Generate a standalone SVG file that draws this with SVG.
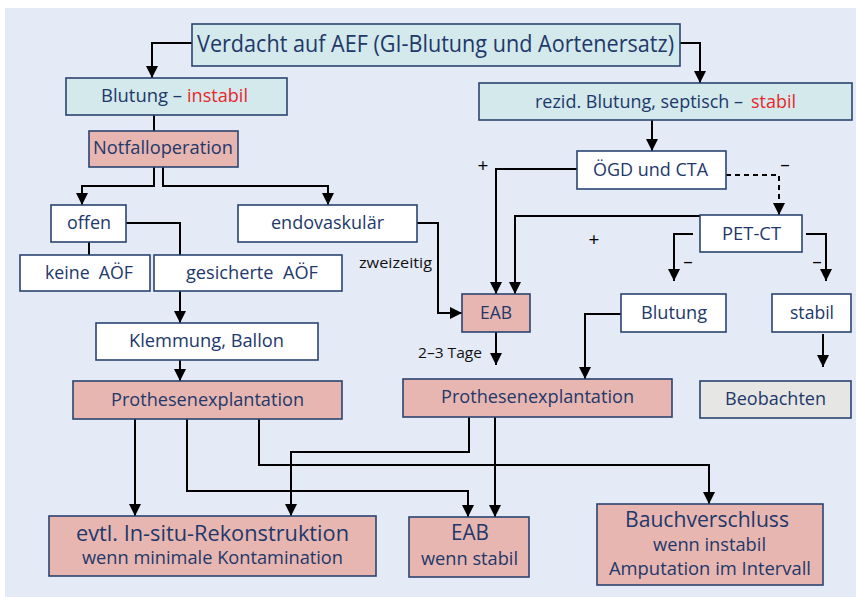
<svg xmlns="http://www.w3.org/2000/svg" width="856" height="597" viewBox="0 0 856 597">
<defs>
<marker id="ah" viewBox="0 0 10 10" refX="10" refY="5" markerWidth="12" markerHeight="12" markerUnits="userSpaceOnUse" orient="auto">
<path d="M0,0 L10,5 L0,10 z" fill="#000"/>
</marker>
<style>
.box{stroke:#2b4470;stroke-width:1.6}
.cy{fill:#d3e9ec}.pk{fill:#e8b6b0}.wh{fill:#ffffff}.gy{fill:#e6e6e4}
.t{font-family:"Open Sans","Noto Sans",sans-serif;fill:#22386a;font-size:19px}
.big{font-size:22px}.sm{font-size:18px}
.red{fill:#e8262b}
.lbl{font-family:"Open Sans","Noto Sans",sans-serif;fill:#111;font-size:15px}
.pm{font-family:"Open Sans","Noto Sans",sans-serif;fill:#000;font-size:19px}
.c{fill:none;stroke:#000;stroke-width:2}
.ar{marker-end:url(#ah)}
.d{stroke-dasharray:5 4}
</style>
</defs>
<rect x="5" y="8" width="851" height="589" fill="#e4eaf6"/>

<g id="connectors">
<path class="c ar" d="M192,43 H152 V78"/>
<path class="c ar" d="M680,43 H700 V83"/>
<path class="c" d="M154,115 V131"/>
<path class="c ar" d="M154,167 V186 H82 V205"/>
<path class="c ar" d="M163,167 V186 H328 V205"/>
<path class="c ar" d="M652,120 V151"/>
<path class="c ar" d="M577,169 H496 V294"/>
<path class="c d ar" d="M726,175 H779 V215"/>
<path class="c ar" d="M700,216 H515 V294"/>
<path class="c ar" d="M693,234 H674 V281"/>
<path class="c ar" d="M806,234 H826 V281"/>
<path class="c ar" d="M417,223 H438 V313 H462"/>
<path class="c ar" d="M496,332 V365"/>
<path class="c ar" d="M621,314 H585 V379"/>
<path class="c ar" d="M823,334 V367"/>
<path class="c ar" d="M180,291 V323"/>
<path class="c" d="M126,223 H180 V255"/>
<path class="c" d="M89,242 V255"/>
<path class="c ar" d="M180,360 V381"/>
<path class="c ar" d="M135,419 V516"/>
<path class="c ar" d="M187,419 V491 H468 V517"/>
<path class="c ar" d="M259,419 V465 H709 V504"/>
<path class="c ar" d="M469,417 V452 H291 V516"/>
<path class="c ar" d="M495,417 V517"/>
<text class="pm" x="483" y="172" text-anchor="middle">+</text>
<text class="pm" x="785" y="171" text-anchor="middle">–</text>
<text class="pm" x="594" y="246" text-anchor="middle">+</text>
<text class="pm" x="688" y="268" text-anchor="middle">–</text>
<text class="pm" x="817" y="268" text-anchor="middle">–</text>
<text class="lbl" x="359" y="268" textLength="73" lengthAdjust="spacingAndGlyphs">zweizeitig</text>
<text class="lbl" x="418" y="358" textLength="64" lengthAdjust="spacingAndGlyphs">2–3 Tage</text>
</g>

<g id="verdacht"><rect class="box cy" x="192" y="24" width="488" height="42"/>
<text class="t" style="font-size:24px" x="197" y="52" textLength="477" lengthAdjust="spacingAndGlyphs">Verdacht auf AEF (GI-Blutung und Aortenersatz)</text></g>

<g id="blutung-instabil"><rect class="box cy" x="66" y="78" width="221" height="37"/>
<text class="t" x="101" y="102" textLength="81" lengthAdjust="spacingAndGlyphs">Blutung –</text>
<text class="t red" x="187" y="102" textLength="61" lengthAdjust="spacingAndGlyphs">instabil</text></g>

<g id="rezid"><rect class="box cy" x="479" y="83" width="373" height="37"/>
<text class="t" x="535" y="108" textLength="208" lengthAdjust="spacingAndGlyphs">rezid. Blutung, septisch –</text>
<text class="t red" x="751" y="108" textLength="45" lengthAdjust="spacingAndGlyphs">stabil</text></g>

<g id="notfalloperation"><rect class="box pk" x="89" y="131" width="149" height="36"/>
<text class="t" x="93" y="154" textLength="140" lengthAdjust="spacingAndGlyphs">Notfalloperation</text></g>

<g id="ogd-cta"><rect class="box wh" x="577" y="151" width="149" height="38"/>
<text class="t" x="593" y="176" textLength="115" lengthAdjust="spacingAndGlyphs">ÖGD und CTA</text></g>

<g id="offen"><rect class="box wh" x="51" y="205" width="75" height="37"/>
<text class="t" x="67" y="229" textLength="44" lengthAdjust="spacingAndGlyphs">offen</text></g>

<g id="endovaskulaer"><rect class="box wh" x="238" y="205" width="179" height="37"/>
<text class="t" x="271" y="229" textLength="113" lengthAdjust="spacingAndGlyphs">endovaskulär</text></g>

<g id="keine-aoef"><rect class="box wh" x="20" y="255" width="130" height="36"/>
<text class="t" x="45" y="279" textLength="88" lengthAdjust="spacingAndGlyphs" xml:space="preserve">keine  AÖF</text></g>

<g id="gesicherte-aoef"><rect class="box wh" x="154" y="255" width="188" height="36"/>
<text class="t" x="186" y="279" textLength="132" lengthAdjust="spacingAndGlyphs" xml:space="preserve">gesicherte  AÖF</text></g>

<g id="klemmung"><rect class="box wh" x="96" y="323" width="222" height="37"/>
<text class="t" x="129" y="347" textLength="155" lengthAdjust="spacingAndGlyphs">Klemmung, Ballon</text></g>

<g id="prothesenexplantation-1"><rect class="box pk" x="73" y="381" width="269" height="38"/>
<text class="t" x="111" y="406" textLength="193" lengthAdjust="spacingAndGlyphs">Prothesenexplantation</text></g>

<g id="eab-1"><rect class="box pk" x="462" y="294" width="68" height="38"/>
<text class="t" x="480" y="319" textLength="32" lengthAdjust="spacingAndGlyphs">EAB</text></g>

<g id="pet-ct"><rect class="box wh" x="700" y="215" width="102" height="37"/>
<text class="t" x="722" y="240" textLength="59" lengthAdjust="spacingAndGlyphs">PET-CT</text></g>

<g id="blutung"><rect class="box wh" x="621" y="294" width="105" height="38"/>
<text class="t" x="641" y="319" textLength="66" lengthAdjust="spacingAndGlyphs">Blutung</text></g>

<g id="stabil"><rect class="box wh" x="772" y="294" width="79" height="38"/>
<text class="t" x="790" y="319" textLength="44" lengthAdjust="spacingAndGlyphs">stabil</text></g>

<g id="prothesenexplantation-2"><rect class="box pk" x="403" y="379" width="269" height="38"/>
<text class="t" x="441" y="403" textLength="193" lengthAdjust="spacingAndGlyphs">Prothesenexplantation</text></g>

<g id="beobachten"><rect class="box gy" x="700" y="381" width="151" height="37"/>
<text class="t" x="725" y="405" textLength="101" lengthAdjust="spacingAndGlyphs">Beobachten</text></g>

<g id="in-situ"><rect class="box pk" x="49" y="516" width="327" height="60"/>
<text class="t big" x="76" y="541" textLength="273" lengthAdjust="spacingAndGlyphs">evtl. In-situ-Rekonstruktion</text>
<text class="t sm" x="82" y="564" textLength="261" lengthAdjust="spacingAndGlyphs">wenn minimale Kontamination</text></g>

<g id="eab-2"><rect class="box pk" x="409" y="517" width="120" height="60"/>
<text class="t big" x="451" y="540" textLength="38" lengthAdjust="spacingAndGlyphs">EAB</text>
<text class="t sm" x="421" y="565" textLength="97" lengthAdjust="spacingAndGlyphs">wenn stabil</text></g>

<g id="bauchverschluss"><rect class="box pk" x="597" y="504" width="226" height="81"/>
<text class="t big" x="625" y="527" textLength="164" lengthAdjust="spacingAndGlyphs">Bauchverschluss</text>
<text class="t sm" x="653" y="551" textLength="113" lengthAdjust="spacingAndGlyphs">wenn instabil</text>
<text class="t sm" x="609" y="575" textLength="202" lengthAdjust="spacingAndGlyphs">Amputation im Intervall</text></g>
</svg>
